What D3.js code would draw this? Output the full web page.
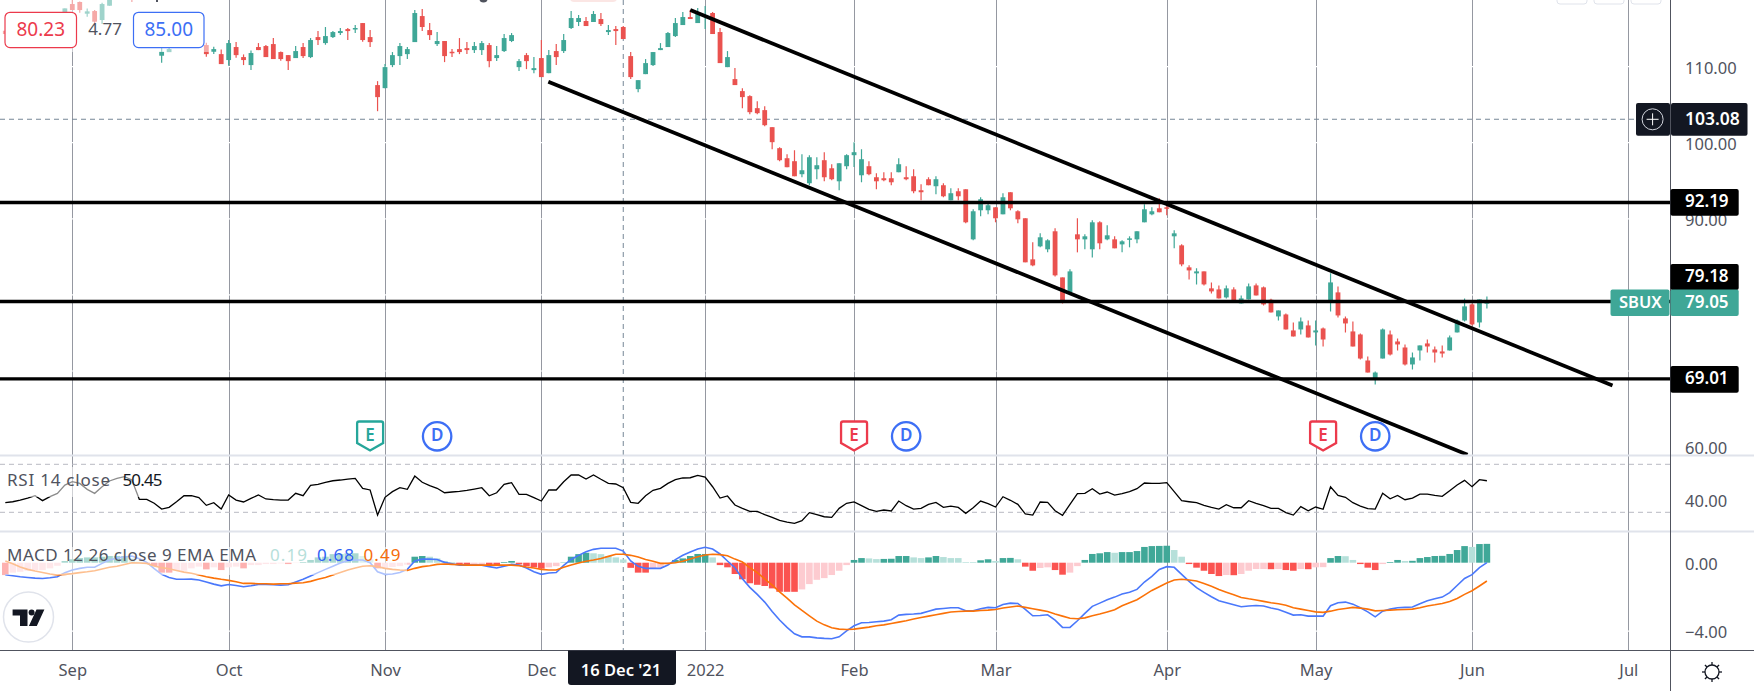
<!DOCTYPE html>
<html>
<head>
<meta charset="utf-8">
<script src="https://cdn.jsdelivr.net/npm/d3@7"></script>
<style>
  html, body { margin: 0; background: #fff; overflow: hidden; }
  svg { display: block; }
  text { font-family: "Noto Sans", sans-serif; }
</style>
</head>
<body>
<div class="chart"></div>
<script>
const n = null;

// one entry per trading day, null where a bar sits behind the order boxes or above the pane
const barOpen = [
  114.71,n,n,n,n,n,n,n,117.00,118.22,
  118.49,116.95,117.30,116.12,118.00,n,n,119.41,n,n,
  n,111.43,111.91,n,n,n,n,112.83,111.95,111.64,
  110.86,112.57,111.25,110.20,112.57,112.70,112.96,111.91,111.51,111.12,
  112.57,111.25,113.88,113.09,113.88,114.41,114.93,114.93,115.72,113.88,
  107.57,107.17,110.20,111.38,111.64,113.22,116.64,114.80,112.96,113.36,
  111.95,112.30,112.43,112.17,112.17,112.83,111.12,112.04,113.36,109.93,
  111.51,109.54,111.12,109.14,112.04,112.04,115.07,115.86,115.99,115.86,
  116.25,114.54,114.93,115.20,111.38,107.04,109.01,110.20,112.17,112.57,
  114.01,115.46,116.51,115.72,116.51,117.04,114.54,109.93,108.36,106.78,
  106.12,104.54,104.28,102.04,99.28,97.96,97.57,95.86,94.67,96.51,
  97.70,96.64,94.93,96.91,98.36,95.72,96.91,95.46,95.33,95.33,
  96.12,95.46,95.59,93.75,95.20,94.28,94.41,92.43,93.62,93.88,
  87.30,91.12,91.12,91.51,90.59,93.49,90.99,90.07,84.67,86.38,
  85.99,88.36,82.30,80.33,87.96,87.30,85.99,89.54,87.30,87.30,
  86.64,87.30,87.30,89.54,90.59,91.38,91.51,87.70,86.51,83.62,
  82.83,83.09,80.86,80.72,79.67,80.72,78.88,79.41,81.25,80.99,
  79.36,77.17,77.43,75.33,75.46,75.99,75.07,75.59,79.14,80.33,
  76.91,75.20,74.80,71.38,68.88,71.64,74.80,73.88,73.09,70.86,
  72.70,73.62,72.83,72.57,72.70,75.07,76.64,78.75,76.38,78.84];
const barClose = [
  114.28,n,n,n,n,n,n,n,117.65,117.43,
  117.43,117.26,115.90,118.22,119.01,n,n,118.88,n,n,
  n,111.95,112.30,n,n,n,n,111.64,112.30,110.33,
  113.09,111.51,110.86,111.78,112.17,111.25,110.99,110.99,110.72,112.04,
  111.38,113.49,113.49,114.01,114.54,114.67,114.67,115.07,113.49,113.22,
  105.99,109.93,111.51,112.70,112.30,117.04,115.20,114.14,113.36,111.38,
  111.78,111.91,112.17,112.70,113.09,110.72,111.51,113.75,114.14,110.72,
  110.72,109.80,108.62,111.51,111.25,113.49,116.38,116.38,115.33,116.91,
  115.59,114.80,114.67,113.62,108.62,108.22,110.46,111.91,112.43,114.41,
  115.72,116.51,116.25,117.17,116.78,114.28,110.46,111.25,107.57,105.99,
  104.01,103.88,102.30,100.07,97.70,96.78,95.59,96.38,98.09,97.04,
  95.46,95.20,97.30,98.36,98.75,97.83,95.86,94.93,95.07,94.80,
  97.17,95.20,93.62,93.49,94.41,95.20,92.96,93.36,92.96,89.54,
  90.99,92.57,91.78,90.07,92.83,91.38,89.93,84.28,83.88,87.57,
  87.17,82.57,79.14,83.09,87.30,87.70,89.54,86.78,87.83,86.12,
  87.04,87.43,88.36,91.25,90.99,90.86,91.38,88.09,84.01,83.22,
  83.09,81.38,80.46,79.54,80.86,79.23,79.54,81.12,79.93,78.75,
  77.70,77.96,75.46,74.54,76.51,74.41,75.33,74.14,81.64,77.30,
  76.25,73.22,71.64,69.80,69.80,75.46,72.17,73.49,70.86,71.78,
  73.36,73.22,72.43,72.30,74.41,76.64,78.49,76.12,79.41,79.05];
const barHigh = [
  114.71,n,n,n,n,n,n,n,117.65,118.75,
  118.57,117.65,117.43,118.40,119.01,n,n,119.60,n,n,
  n,112.48,112.48,n,n,n,n,113.14,112.61,112.26,
  113.49,113.22,111.60,112.13,113.09,112.83,113.75,112.00,111.51,112.70,
  113.09,113.75,114.67,115.20,114.67,115.07,115.07,115.46,115.72,114.80,
  108.09,110.33,111.91,113.09,112.57,117.43,117.57,115.72,114.54,113.36,
  112.30,113.75,113.22,113.22,113.36,113.09,112.70,114.28,114.41,110.99,
  111.78,111.25,113.49,112.17,112.96,114.28,117.30,116.78,116.51,117.30,
  117.04,115.46,115.33,115.33,111.91,108.22,110.99,111.91,113.09,114.54,
  116.38,117.17,117.43,117.70,117.96,117.17,115.07,112.04,109.80,107.17,
  106.25,105.46,104.80,102.04,99.41,98.49,99.01,98.49,98.36,98.09,
  98.75,97.17,97.30,98.49,100.07,99.14,97.57,95.99,96.12,96.12,
  97.96,96.91,96.51,94.54,95.46,95.59,94.67,94.01,94.01,93.88,
  91.25,92.83,92.30,91.51,93.36,93.49,91.12,90.07,86.91,88.09,
  87.30,88.75,82.30,83.36,90.07,87.96,89.80,89.67,89.14,87.70,
  87.17,87.70,88.36,91.91,91.51,92.70,91.91,88.49,86.64,83.88,
  83.49,83.09,81.64,81.25,81.25,80.99,79.93,81.51,81.51,81.12,
  79.50,77.96,77.57,76.38,77.04,76.64,76.64,75.72,82.83,81.12,
  77.17,76.51,74.93,71.91,69.93,75.59,75.33,74.28,73.49,72.43,
  73.36,74.14,73.22,73.36,74.67,76.78,79.54,78.88,79.41,79.80];
const barLow = [
  114.28,n,n,n,n,n,n,n,117.00,117.43,
  117.08,116.56,115.59,115.59,118.00,n,n,118.49,n,n,
  n,110.50,111.91,n,n,n,n,111.29,111.64,110.33,
  110.11,111.16,110.20,109.54,112.17,111.25,110.99,110.77,109.54,111.12,
  111.12,111.12,112.83,112.87,113.75,114.14,113.49,114.41,113.27,112.57,
  104.14,107.17,109.93,110.20,110.99,113.22,114.67,113.49,112.70,110.59,
  111.25,111.64,111.64,111.78,111.51,109.93,110.72,111.91,113.22,109.41,
  109.67,109.14,108.62,109.14,110.20,111.78,114.93,115.33,115.33,115.86,
  115.33,114.14,112.83,113.62,108.36,106.64,109.01,110.07,112.17,112.57,
  113.88,115.46,116.25,115.72,114.93,114.28,110.46,109.93,107.57,104.54,
  103.75,103.75,102.17,99.14,97.57,96.78,95.59,95.46,94.41,95.20,
  94.93,95.07,93.75,96.51,96.82,94.80,95.72,93.88,94.93,94.41,
  96.12,95.07,93.36,92.43,94.41,93.22,92.83,92.43,92.43,89.41,
  87.17,90.33,90.59,89.54,90.59,91.12,89.41,84.28,83.75,86.25,
  85.59,82.43,78.88,80.20,85.59,85.99,84.93,85.99,87.17,86.12,
  85.59,86.25,86.78,89.54,90.46,90.86,90.46,86.12,83.75,82.04,
  81.38,81.25,80.20,79.54,79.54,79.14,78.88,79.41,79.93,78.62,
  77.70,76.64,75.46,74.54,74.80,74.41,73.36,73.22,77.83,77.04,
  75.07,73.22,71.51,69.80,68.22,71.64,72.04,72.70,70.72,70.20,
  71.38,72.43,71.12,71.78,72.70,75.07,76.51,75.99,75.72,78.22];

const rsiValues = [
  38.0,38.8,40.2,41.9,43.8,39.7,43.0,45.8,52.7,55.5,
  54.1,49.1,45.8,51.3,56.1,58.3,59.7,56.9,40.8,40.8,
  37.5,32.7,34.1,38.8,43.8,43.8,42.2,35.8,38.0,32.7,
  44.4,40.2,38.6,41.6,44.4,41.1,40.5,40.2,40.2,45.8,
  43.8,52.5,53.3,55.0,56.3,56.9,57.7,58.3,50.0,48.6,
  27.7,42.5,47.2,50.5,49.1,60.2,55.0,52.2,50.0,46.3,
  46.9,47.5,48.3,49.4,50.5,43.8,46.3,53.3,54.7,45.0,
  45.0,42.2,39.4,48.6,48.6,55.5,61.1,61.1,57.7,61.1,
  57.5,54.1,53.6,50.45,38.3,37.5,43.8,48.3,50.0,54.1,
  57.2,58.6,58.8,60.8,59.4,51.3,41.9,43.6,36.1,33.3,
  30.8,30.8,28.0,25.8,23.3,21.9,20.8,23.0,29.7,28.0,
  26.3,25.8,33.3,37.5,38.6,35.5,32.5,30.8,31.9,31.1,
  39.4,35.5,32.7,33.3,36.6,38.3,34.1,35.2,34.1,29.1,
  33.8,39.4,37.2,34.4,43.0,40.0,36.6,28.6,27.7,38.6,
  38.3,31.3,27.5,36.6,45.5,45.8,49.7,45.2,46.9,44.4,
  45.5,47.2,49.7,54.4,54.1,54.1,54.7,47.2,39.7,38.8,
  38.0,35.8,34.1,32.7,36.3,33.8,33.8,39.7,37.5,35.5,
  33.3,33.3,29.7,27.7,34.7,31.3,34.4,32.5,51.3,44.1,
  42.5,38.0,35.2,33.0,32.7,45.8,41.3,44.1,40.5,41.9,
  45.2,45.2,44.1,43.3,48.0,52.7,56.6,51.3,57.2,56.3];

const macdValues = [
  -0.70,-0.76,-0.82,-0.86,-0.90,-0.92,-0.88,-0.82,-0.58,-0.43,
  -0.33,-0.27,-0.27,-0.04,0.16,0.27,0.33,0.39,0.23,0.02,
  -0.35,-0.68,-0.86,-0.97,-0.97,-0.96,-1.01,-1.13,-1.25,-1.35,
  -1.27,-1.33,-1.40,-1.35,-1.27,-1.27,-1.29,-1.31,-1.29,-1.13,
  -0.97,-0.78,-0.58,-0.39,-0.21,-0.02,0.12,0.16,0.16,0,
  -0.53,-0.68,-0.66,-0.57,-0.39,0.10,0.21,0.21,0.19,0.02,
  -0.06,-0.14,-0.14,-0.14,-0.14,-0.23,-0.31,-0.21,-0.10,-0.14,
  -0.31,-0.53,-0.68,-0.60,-0.57,-0.16,0.19,0.43,0.64,0.78,
  0.84,0.84,0.84,0.68,0.10,-0.21,-0.33,-0.33,-0.33,-0.14,
  0.18,0.43,0.62,0.80,0.90,0.80,0.51,0.10,-0.29,-0.94,
  -1.44,-1.85,-2.30,-2.85,-3.35,-3.78,-4.15,-4.33,-4.33,-4.39,
  -4.42,-4.44,-4.33,-3.98,-3.68,-3.51,-3.49,-3.45,-3.41,-3.33,
  -3.06,-3.02,-3.00,-2.96,-2.83,-2.71,-2.67,-2.63,-2.63,-2.81,
  -2.81,-2.69,-2.61,-2.63,-2.44,-2.36,-2.38,-2.73,-3.10,-3.08,
  -3.04,-3.35,-3.78,-3.78,-3.39,-2.96,-2.55,-2.36,-2.16,-2.01,
  -1.83,-1.72,-1.56,-1.13,-0.80,-0.39,-0.23,-0.27,-0.68,-1.09,
  -1.46,-1.73,-1.99,-2.22,-2.34,-2.46,-2.57,-2.53,-2.50,-2.53,
  -2.65,-2.73,-2.90,-3.06,-3.04,-3.12,-3.12,-3.12,-2.51,-2.34,
  -2.30,-2.42,-2.63,-2.87,-3.16,-2.83,-2.71,-2.63,-2.61,-2.59,
  -2.40,-2.22,-2.11,-2.01,-1.75,-1.33,-0.92,-0.70,-0.29,0];
const signalValues = [
  0.10,-0.06,-0.25,-0.39,-0.49,-0.57,-0.66,-0.72,-0.68,-0.64,
  -0.58,-0.53,-0.47,-0.37,-0.27,-0.21,-0.10,0,-0.02,-0.04,
  -0.19,-0.29,-0.35,-0.45,-0.55,-0.62,-0.72,-0.82,-0.90,-0.97,
  -1.03,-1.11,-1.21,-1.21,-1.23,-1.23,-1.25,-1.23,-1.23,-1.19,
  -1.17,-1.09,-0.97,-0.86,-0.72,-0.57,-0.43,-0.31,-0.21,-0.18,
  -0.23,-0.33,-0.39,-0.43,-0.45,-0.33,-0.23,-0.18,-0.10,-0.08,
  -0.10,-0.12,-0.14,-0.14,-0.14,-0.14,-0.14,-0.14,-0.14,-0.18,
  -0.25,-0.31,-0.39,-0.43,-0.43,-0.27,-0.14,-0.02,0.08,0.16,
  0.25,0.37,0.49,0.49,0.43,0.33,0.19,0.08,-0.04,-0.04,
  0,0.08,0.21,0.35,0.45,0.49,0.47,0.41,0.21,0.04,
  -0.29,-0.58,-0.94,-1.31,-1.70,-2.07,-2.46,-2.79,-3.10,-3.41,
  -3.63,-3.80,-3.88,-3.90,-3.88,-3.82,-3.76,-3.68,-3.63,-3.55,
  -3.47,-3.39,-3.29,-3.20,-3.12,-3.04,-2.96,-2.88,-2.85,-2.83,
  -2.83,-2.79,-2.77,-2.73,-2.65,-2.59,-2.53,-2.61,-2.69,-2.77,
  -2.85,-3.00,-3.12,-3.24,-3.27,-3.22,-3.10,-3.00,-2.88,-2.75,
  -2.51,-2.34,-2.16,-1.89,-1.62,-1.40,-1.19,-1.01,-0.97,-1.01,
  -1.07,-1.21,-1.38,-1.56,-1.72,-1.87,-2.03,-2.11,-2.18,-2.26,
  -2.34,-2.40,-2.48,-2.63,-2.71,-2.79,-2.87,-2.90,-2.83,-2.73,
  -2.67,-2.61,-2.65,-2.71,-2.81,-2.79,-2.77,-2.75,-2.73,-2.71,
  -2.63,-2.53,-2.46,-2.38,-2.26,-2.09,-1.85,-1.64,-1.36,-1.07];
const histValues = [
  -0.72,-0.58,-0.53,-0.47,-0.43,-0.43,-0.33,-0.18,0.10,0.20,
  0.27,0.31,0.31,0.35,0.39,0.39,0.39,0.25,0.06,-0.05,
  -0.20,-0.58,-0.58,-0.47,-0.47,-0.33,-0.23,-0.39,-0.27,-0.43,
  -0.27,-0.23,-0.33,-0.14,-0.14,-0.08,-0.08,-0.04,-0.08,-0.02,
  0.04,0.16,0.31,0.35,0.50,0.50,0.55,0.55,0.39,0.20,
  -0.33,-0.30,-0.25,-0.20,-0.12,0.35,0.39,0.35,0.25,0.10,
  0.04,-0.12,-0.16,-0.14,-0.10,-0.16,-0.20,0.04,0.10,-0.10,
  -0.20,-0.27,-0.35,-0.27,-0.20,0.02,0.35,0.50,0.58,0.55,
  0.50,0.39,0.31,0.19,-0.30,-0.58,-0.58,-0.33,-0.27,-0.08,
  0.16,0.25,0.39,0.51,0.51,0.31,-0.14,-0.27,-0.66,-0.97,
  -1.20,-1.29,-1.36,-1.50,-1.70,-1.70,-1.70,-1.56,-1.25,-1.00,
  -0.90,-0.72,-0.47,-0.14,0.16,0.27,0.25,0.21,0.22,0.23,
  0.39,0.39,0.31,0.27,0.31,0.39,0.33,0.27,0.27,0.04,
  0.04,0.14,0.20,0.10,0.27,0.28,0.20,-0.23,-0.47,-0.31,
  -0.27,-0.43,-0.70,-0.58,-0.20,0.16,0.51,0.55,0.62,0.58,
  0.62,0.62,0.68,0.92,0.97,0.98,0.99,0.74,0.35,-0.08,
  -0.29,-0.47,-0.66,-0.78,-0.72,-0.73,-0.66,-0.47,-0.37,-0.37,
  -0.38,-0.37,-0.43,-0.47,-0.37,-0.38,-0.27,-0.26,0.27,0.39,
  0.38,0.16,-0.08,-0.29,-0.43,-0.08,0.04,0.16,0.10,0.11,
  0.27,0.33,0.39,0.40,0.51,0.74,0.97,0.92,1.09,1.10];

const monthBars = [9, 30, 51, 72, 94, 114, 133, 156, 176, 197, 218];
const monthLabels = ["Sep", "Oct", "Nov", "Dec", "2022", "Feb", "Mar", "Apr", "May", "Jun", "Jul"];
const gridPrices = [110, 100, 90, 80, 70];
const priceTicks = [110, 100, 90, 70, 60];
const rsiTicks = [40];
const rsiBands = [70, 30];
const macdTicks = [0, -4];
const levelPrices = [92.19, 79.18, 69.01];
const hoverBar = 83;
const hoverPrice = 103.08;
// [startBar, startPrice, endBar, endPrice]
const channelLines = [[92, 117.43, 215.87, 68.09], [72.94, 108.0, 196.4, 59.0]];
const earningsBars = [49, 114, 177];
const earningsColors = ["#26a69a", "#ec3a4c", "#ec3a4c"];
const dividendBars = [58, 121, 184];

const width = 1757, height = 691;
const axisX = 1670.5, timeY = 650.5, pane1 = 455.5, pane2 = 531.5;
const teal = "#3fa797", red = "#ea524f", ink = "#50535e", grid = "#9598a1";

const x = d3.scaleLinear().domain([0, 199]).range([5.3, 1486.9]);
const yPrice = d3.scaleLinear().domain([100, 60]).range([142.7, 447.1]);
const yRsi = d3.scaleLinear().domain([70, 30]).range([464.3, 512.3]);
const yMacd = d3.scaleLinear().domain([0, -4]).range([562.7, 631.2]);

const svg = d3.select(".chart").append("svg")
  .attr("width", width).attr("height", height);

svg.append("clipPath").attr("id", "mainClip").append("rect")
  .attr("width", axisX).attr("height", pane1);

// grid: vertical months, then the white price lines that cut through them
svg.append("g").selectAll("line").data(monthBars).join("line")
  .attr("x1", d => Math.round(x(d)) + 0.5).attr("x2", d => Math.round(x(d)) + 0.5)
  .attr("y1", 0).attr("y2", timeY)
  .attr("stroke", grid).attr("stroke-width", 1);
svg.append("g").selectAll("line").data(gridPrices).join("line")
  .attr("x1", 0).attr("x2", axisX)
  .attr("y1", d => yPrice(d)).attr("y2", d => yPrice(d))
  .attr("stroke", "#fff").attr("stroke-width", 1.2);
svg.append("line").attr("x1", 0).attr("x2", axisX)
  .attr("y1", yMacd(-4)).attr("y2", yMacd(-4))
  .attr("stroke", "#fff").attr("stroke-width", 1.2);

// crosshair
svg.append("line").attr("x1", x(hoverBar)).attr("x2", x(hoverBar))
  .attr("y1", 0).attr("y2", timeY)
  .attr("stroke", "#758696").attr("stroke-dasharray", "5 4");
svg.append("line").attr("x1", 0).attr("x2", 1636)
  .attr("y1", yPrice(hoverPrice)).attr("y2", yPrice(hoverPrice))
  .attr("stroke", "#758696").attr("stroke-dasharray", "5 4");

// candles
const bars = d3.range(barOpen.length).filter(i => barOpen[i] !== null);
const main = svg.append("g").attr("clip-path", "url(#mainClip)");
const barColor = i => barClose[i] >= barOpen[i] ? teal : red;
main.append("g").selectAll("line").data(bars).join("line")
  .attr("x1", i => x(i)).attr("x2", i => x(i))
  .attr("y1", i => yPrice(barHigh[i])).attr("y2", i => yPrice(barLow[i]))
  .attr("stroke", barColor).attr("stroke-width", 1.2);
main.append("g").selectAll("rect").data(bars).join("rect")
  .attr("x", i => x(i) - 2.4).attr("width", 4.8)
  .attr("y", i => yPrice(Math.max(barOpen[i], barClose[i])))
  .attr("height", i => Math.max(1.5, Math.abs(yPrice(barOpen[i]) - yPrice(barClose[i]))))
  .attr("fill", barColor);

// white veil of the legend over the first candles
main.append("rect").attr("width", 211).attr("height", 52)
  .attr("fill", "#fff").attr("opacity", 0.5);

// horizontal levels and the falling channel
main.append("g").selectAll("line").data(levelPrices).join("line")
  .attr("x1", 0).attr("x2", axisX)
  .attr("y1", d => yPrice(d) + 0.3).attr("y2", d => yPrice(d) + 0.3)
  .attr("stroke", "#000").attr("stroke-width", 3.4);
main.append("g").selectAll("line").data(channelLines).join("line")
  .attr("x1", d => x(d[0])).attr("y1", d => yPrice(d[1]))
  .attr("x2", d => x(d[2])).attr("y2", d => yPrice(d[3]))
  .attr("stroke", "#000").attr("stroke-width", 3.8);

// earnings and dividend flags
const earnTop = 421.5;
const flags = svg.append("g");
earningsBars.forEach((b, i) => {
  const cx = x(b);
  flags.append("path")
    .attr("d", `M${cx - 13},${earnTop + 2}q0,-2 2,-2h22q2,0 2,2v19.5l-13,7.5l-13,-7.5z`)
    .attr("fill", "#fff").attr("stroke", earningsColors[i]).attr("stroke-width", 2.3);
  flags.append("text").attr("x", cx).attr("y", earnTop + 14.5)
    .attr("text-anchor", "middle").attr("dominant-baseline", "middle")
    .attr("font-size", 17).attr("font-weight", 600).attr("fill", earningsColors[i]).text("E");
});
dividendBars.forEach(b => {
  const cx = x(b);
  flags.append("circle").attr("cx", cx).attr("cy", 436.3).attr("r", 14.2)
    .attr("fill", "#fff").attr("stroke", "#3d6ff5").attr("stroke-width", 2.3);
  flags.append("text").attr("x", cx).attr("y", 436.3)
    .attr("text-anchor", "middle").attr("dominant-baseline", "middle")
    .attr("font-size", 17).attr("font-weight", 600).attr("fill", "#3d6ff5").text("D");
});

// MACD histogram, strong colour while the bars keep growing
let strong = true;
const histColor = histValues.map((v, i) => {
  const prev = i ? Math.abs(histValues[i - 1]) : 0;
  const sameSide = i && histValues[i - 1] * v > 0;
  if (!sameSide || Math.abs(v) > prev) strong = true;
  else if (Math.abs(v) < prev) strong = false;
  return v >= 0 ? (strong ? "#40a898" : "#b6e0da") : (strong ? "#fb5350" : "#fdcbd0");
});
svg.append("g").selectAll("rect").data(histValues).join("rect")
  .attr("x", (d, i) => x(i) - 3.3).attr("width", 6.6)
  .attr("y", d => Math.min(yMacd(d), yMacd(0)))
  .attr("height", d => Math.abs(yMacd(d) - yMacd(0)))
  .attr("fill", (d, i) => histColor[i]);

const lineOf = y => d3.line().x((d, i) => x(i)).y(d => y(d));
svg.append("path").attr("d", lineOf(yMacd)(macdValues))
  .attr("fill", "none").attr("stroke", "#4a78fb").attr("stroke-width", 1.6);
svg.append("path").attr("d", lineOf(yMacd)(signalValues))
  .attr("fill", "none").attr("stroke", "#fb7208").attr("stroke-width", 1.6);

// RSI
svg.append("g").selectAll("line").data(rsiBands).join("line")
  .attr("x1", 0).attr("x2", axisX)
  .attr("y1", d => yRsi(d)).attr("y2", d => yRsi(d))
  .attr("stroke", "#b8bac2").attr("stroke-dasharray", "5 4");
svg.append("path").attr("d", lineOf(yRsi)(rsiValues))
  .attr("fill", "none").attr("stroke", "#000").attr("stroke-width", 1.3);

// pane legends sit on a soft veil
svg.append("rect").attr("y", 467).attr("width", 140).attr("height", 30)
  .attr("fill", "#fff").attr("opacity", 0.55);
svg.append("rect").attr("y", 547).attr("width", 407).attr("height", 28)
  .attr("fill", "#fff").attr("opacity", 0.55);

const legendRows = [
  [7, 481.7, "RSI 14 close", ink, 103], [122.5, 481.7, "50.45", "#131722", 40],
  [7, 556.7, "MACD 12 26 close 9 EMA EMA", ink, 249], [270, 556.7, "0.19", "#b6e0da", 37],
  [317, 556.7, "0.68", "#2f62f5", 37], [363.5, 556.7, "0.49", "#f56c0a", 37]
];
svg.append("g").selectAll("text").data(legendRows).join("text")
  .attr("x", d => d[0]).attr("y", d => d[1])
  .attr("dominant-baseline", "middle").attr("font-size", 17)
  .attr("textLength", d => d[4]).attr("lengthAdjust", "spacing")
  .attr("fill", d => d[3]).text(d => d[2]);

// pane separators
svg.append("g").selectAll("line").data([pane1, pane2]).join("line")
  .attr("x1", 0).attr("x2", 1754).attr("y1", d => d).attr("y2", d => d)
  .attr("stroke", "#e0e3eb").attr("stroke-width", 2);

// axes
const tidy = g => {
  g.select(".domain").remove();
  g.selectAll(".tick line").remove();
  g.selectAll("text").attr("font-size", 16.5).attr("fill", ink)
    .style("font-family", '"Noto Sans", sans-serif');
};
const rightAxis = (scale, ticks, fmt) => d3.axisRight(scale).tickValues(ticks).tickSize(0).tickPadding(0).tickFormat(fmt);
const fmt2 = d => d3.format(".2f")(d).replace("-", "\u2212");
[[yPrice, priceTicks], [yRsi, rsiTicks], [yMacd, macdTicks]].forEach(([s, t]) => {
  svg.append("g").attr("transform", "translate(1685,1.2)")
    .call(rightAxis(s, t, fmt2)).call(tidy)
    .selectAll("text").attr("text-anchor", "start");
});
svg.append("g").attr("transform", `translate(0,${timeY})`)
  .call(d3.axisBottom(x).tickValues(monthBars).tickSize(0).tickPadding(14)
    .tickFormat(d => monthLabels[monthBars.indexOf(d)]))
  .call(tidy);

svg.append("line").attr("x1", axisX).attr("x2", axisX).attr("y1", 0).attr("y2", height)
  .attr("stroke", ink);
svg.append("line").attr("x1", 0).attr("x2", 1754).attr("y1", timeY).attr("y2", timeY)
  .attr("stroke", ink);

// value tags on the price scale
const tag = (x0, y0, w, h, fill, label, textX, size) => {
  svg.append("rect").attr("x", x0).attr("y", y0).attr("width", w).attr("height", h)
    .attr("rx", 2).attr("fill", fill);
  svg.append("text").attr("x", textX).attr("y", y0 + h / 2 + 0.5)
    .attr("dominant-baseline", "middle").attr("font-size", size || 17).attr("font-weight", 600)
    .attr("fill", "#fff").text(label);
};
tag(axisX, 189, 68.2, 26.7, "#000", "92.19", 1685);
tag(axisX, 264, 68.2, 26, "#000", "79.18", 1685);
tag(axisX, 366, 68.2, 26.7, "#000", "69.01", 1685);
tag(1610.5, 289.5, 59, 26.5, teal, "SBUX", 1619, 16.5);
tag(1670.5, 289.5, 68.2, 26.5, teal, "79.05", 1685);
tag(1671, 103, 76.5, 32.7, "#131722", "103.08", 1685, 17.5);

// crosshair plus button
svg.append("rect").attr("x", 1636).attr("y", 103).attr("width", 34).attr("height", 32.7)
  .attr("rx", 2).attr("fill", "#131722");
svg.append("circle").attr("cx", 1652.6).attr("cy", 119.3).attr("r", 10.5)
  .attr("fill", "none").attr("stroke", "#d1d4dc");
svg.append("path").attr("d", "M1652.6,113.3v12M1646.6,119.3h12").attr("stroke", "#fff");

// order boxes
const orderBox = (x0, w, color, label) => {
  svg.append("rect").attr("x", x0).attr("y", 12.3).attr("width", w).attr("height", 35.3)
    .attr("rx", 5).attr("fill", "#fff").attr("stroke", color).attr("stroke-width", 1.2);
  svg.append("text").attr("x", x0 + w / 2).attr("y", 30.5).attr("text-anchor", "middle")
    .attr("dominant-baseline", "middle").attr("font-size", 19).attr("fill", color).text(label);
};
orderBox(5, 71.5, "#ec3a4c", "80.23");
orderBox(133.5, 70.5, "#3d6ff5", "85.00");
svg.append("text").attr("x", 105).attr("y", 30.5).attr("text-anchor", "middle")
  .attr("dominant-baseline", "middle").attr("font-size", 17).attr("fill", ink).text("4.77");

// what is left of the cut-off top toolbar
[1557, 1594, 1631].forEach(bx => {
  svg.append("rect").attr("x", bx).attr("y", -10).attr("width", 30).attr("height", 14)
    .attr("rx", 3).attr("fill", "#fff").attr("stroke", "#e0e3eb");
});
svg.append("rect").attr("x", 570).attr("y", -6).attr("width", 47).attr("height", 8)
  .attr("rx", 4).attr("fill", "#fbe6e4");
svg.append("circle").attr("cx", 483.5).attr("cy", -2).attr("r", 4.5).attr("fill", ink);
svg.append("rect").attr("x", 156).attr("y", 0).attr("width", 2).attr("height", 2).attr("fill", ink);

// date tag under the crosshair
svg.append("path").attr("d", "M568,650.5H676V682q0,3 -3,3H571q-3,0 -3,-3z").attr("fill", "#131722");
svg.append("text").attr("x", 621).attr("y", 671.7).attr("text-anchor", "middle")
  .attr("dominant-baseline", "middle").attr("font-size", 16.5).attr("font-weight", 600)
  .attr("fill", "#fff").text("16 Dec '21");

// logo badge
svg.append("circle").attr("cx", 28.5).attr("cy", 617).attr("r", 25)
  .attr("fill", "#fff").attr("stroke", "#e0e3eb").attr("stroke-width", 1.5);
svg.append("path").attr("fill", "#131722")
  .attr("d", "M12.6,609.5H27.5V626H20V615.5H12.6zM36.5,609.5H44.4L36.8,626H28.9z");
svg.append("circle").attr("cx", 31.6).attr("cy", 612.6).attr("r", 3).attr("fill", "#131722");

// settings sun
const gear = svg.append("g").attr("transform", "translate(1712,672)")
  .attr("fill", "none").attr("stroke", "#131722").attr("stroke-width", 1.3);
gear.append("circle").attr("r", 7);
gear.selectAll("line").data(d3.range(8)).join("line")
  .attr("x1", d => 7 * Math.cos(d * Math.PI / 4)).attr("y1", d => 7 * Math.sin(d * Math.PI / 4))
  .attr("x2", d => 10 * Math.cos(d * Math.PI / 4)).attr("y2", d => 10 * Math.sin(d * Math.PI / 4));
</script>
</body>
</html>
